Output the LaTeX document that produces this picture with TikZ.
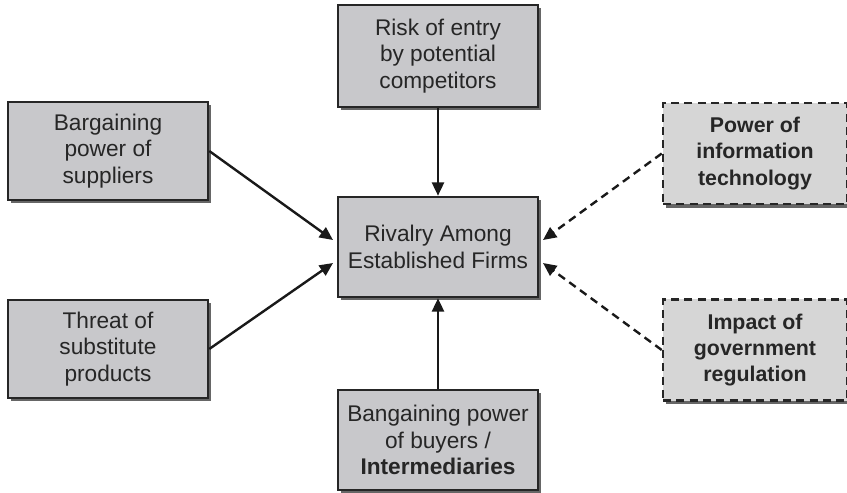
\documentclass[tikz,border=0pt]{standalone}
\usepackage{fontspec}
\setmainfont{Liberation Sans}
\usetikzlibrary{shadows,arrows.meta}
\definecolor{boxgray}{RGB}{200,200,203}
\definecolor{dashgray}{RGB}{214,214,214}
\tikzset{
  force/.style={draw=black!85, line width=1.9pt, fill=boxgray, minimum width=150pt, minimum height=75pt,
    align=center, font=\fontsize{17}{19.8}\selectfont, text=black!85, inner sep=0pt,
    drop shadow={shadow xshift=2.5pt, shadow yshift=-2.5pt, fill=black!60, opacity=1}},
  factor/.style={force, fill=dashgray, dash pattern=on 6pt off 4pt, font=\fontsize{16}{19.8}\selectfont\bfseries},
  push/.style={-{Triangle[length=10pt,width=9pt]}, line width=1.8pt, black!90},
  pull/.style={push, dash pattern=on 6pt off 4pt}
}
\begin{document}
\begin{tikzpicture}[x=0.75pt, y=0.75pt]
  \useasboundingbox (0,0) rectangle (847,-493);
  \node[force] (rival) at (438,-247) {Rivalry Among\\Established Firms};
  \node[force, minimum height=76.5pt] (entry) at (438,-56) {Risk of entry\\by potential\\competitors};
  \node[force] (buyers) at (438,-440) {Bangaining power\\of buyers /\\\textbf{Intermediaries}};
  \node[force, minimum height=73.5pt] (suppliers) at (108,-151) {Bargaining\\power of\\suppliers};
  \node[force, minimum height=73.5pt] (substitutes) at (108,-349) {Threat of\\substitute\\products};
  \node[factor, minimum width=138pt, minimum height=76pt] (infotech) at (755,-153.5) {Power of\\information\\technology};
  \node[factor, minimum width=138pt, minimum height=76pt] (regulation) at (755,-350) {Impact of\\government\\regulation};
  \coordinate (lin1) at (333,-240);
  \coordinate (lin2) at (333,-263);
  \coordinate (rin1) at (543,-240);
  \coordinate (rin2) at (543,-263);
  \draw[push] (entry.south) -- (rival.north);
  \draw[push] (buyers.north) -- (rival.south);
  \draw[push] (suppliers.east) -- (lin1);
  \draw[push] (substitutes.east) -- (lin2);
  \draw[pull] (infotech.west) -- (rin1);
  \draw[pull] (regulation.west) -- (rin2);
\end{tikzpicture}
\end{document}
